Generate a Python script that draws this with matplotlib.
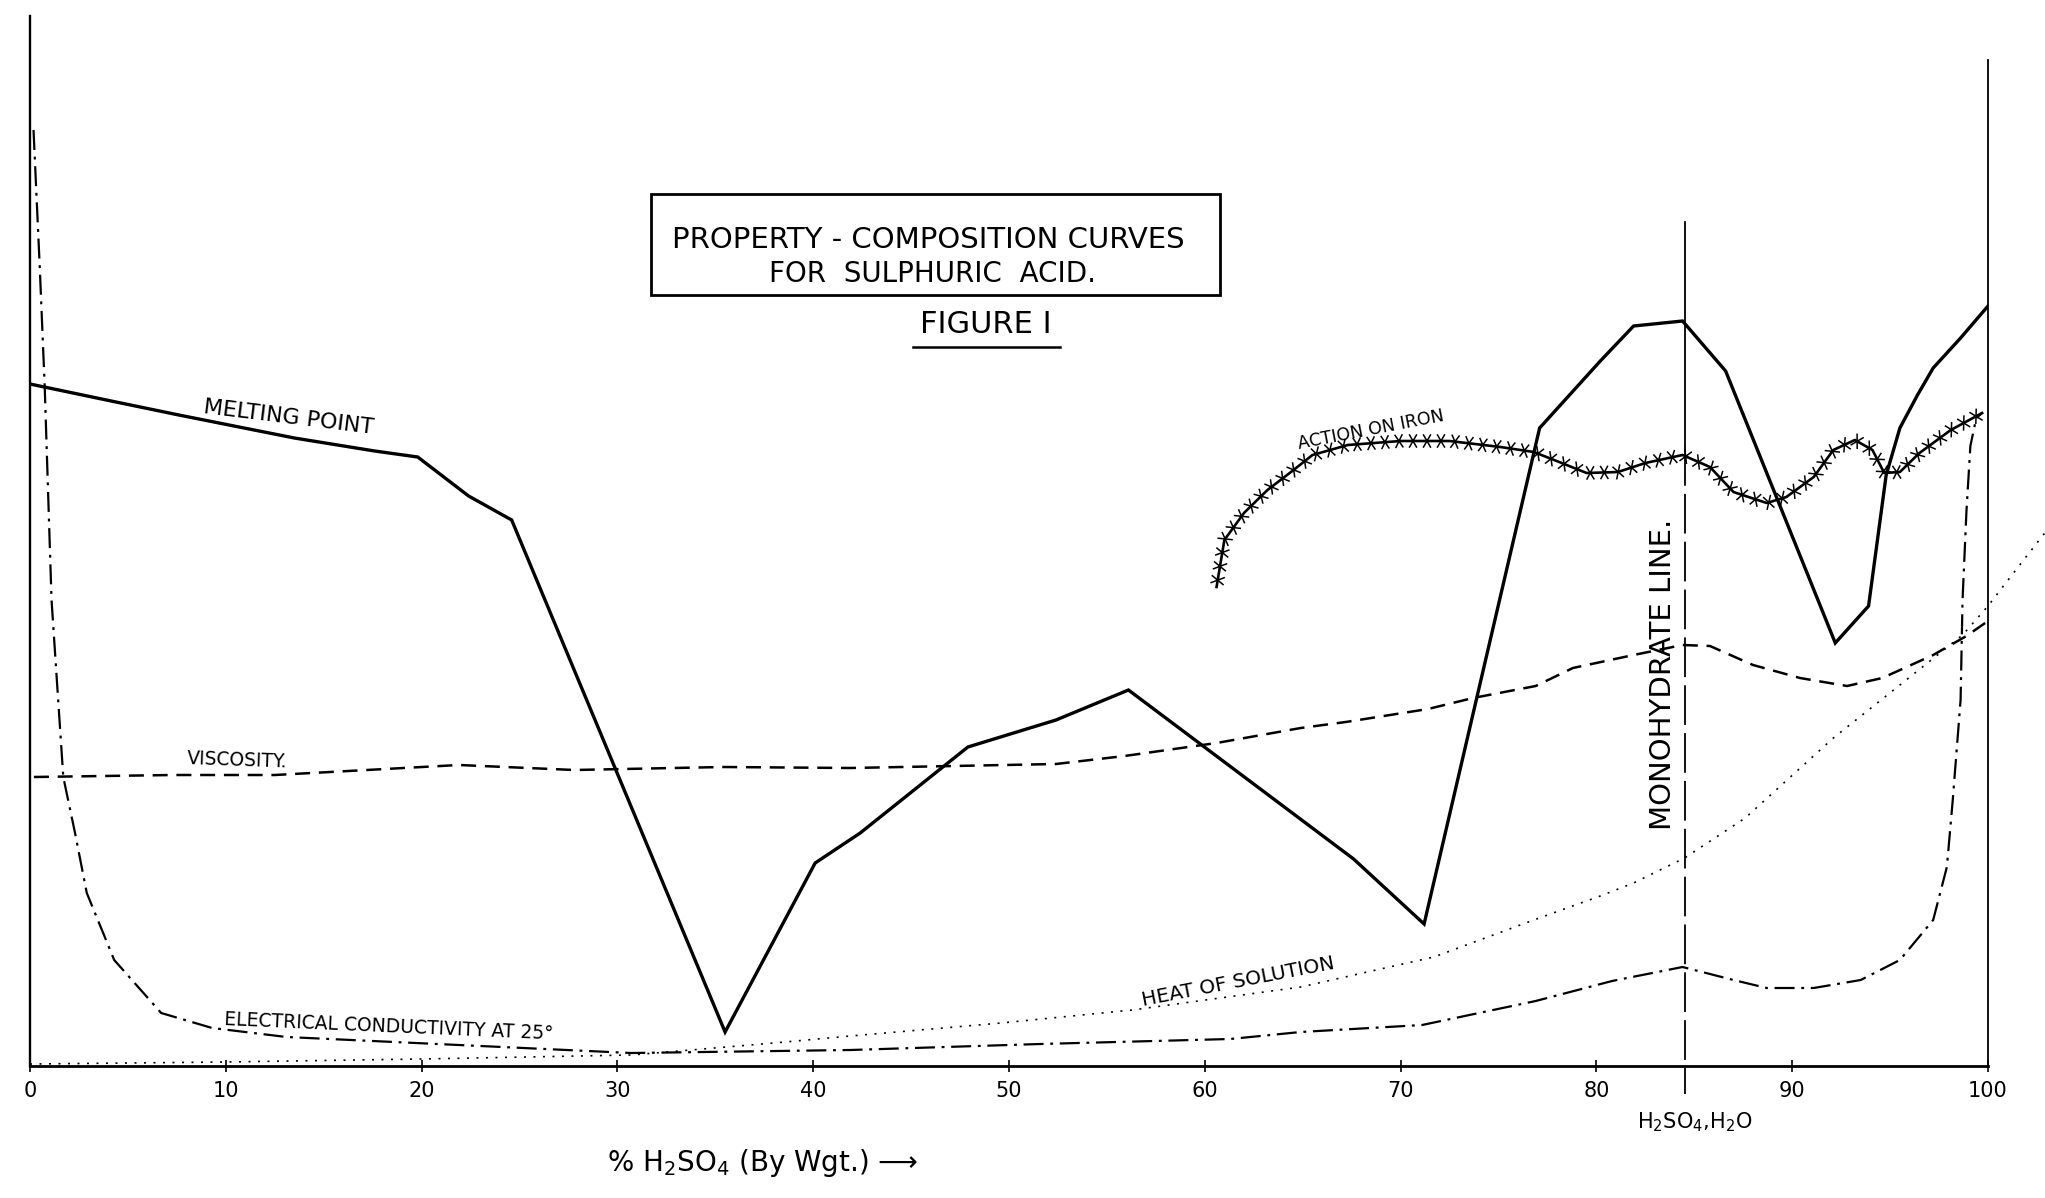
import matplotlib.pyplot as plt
import matplotlib.patheffects as pe
from matplotlib.patches import Rectangle

# % H2SO4 by weight on x, heights are arbitrary chart units (no y scale on the original)
melt_x = [0, 3.9, 7.6, 13.5, 17.6, 19.8, 22.4, 24.6, 35.5, 40.1, 42.4, 47.9, 52.4, 56.1,
          67.6, 71.2, 77.1, 80.2, 81.9, 84.4, 86.6, 92.2, 93.9, 94.8, 95.5, 96.4, 97.2, 98.6, 100]
melt_y = [68.2, 66.6, 65.1, 62.8, 61.5, 60.9, 57.0, 54.6, 3.4, 20.3, 23.3, 31.9, 34.6, 37.6,
          20.7, 14.2, 63.8, 70.5, 74.0, 74.5, 69.5, 42.3, 46.0, 59.1, 63.8, 67.1, 69.8, 72.8, 76.0]

action_x = [60.6, 61.0, 62.0, 63.2, 64.4, 65.5, 67.3, 70.0, 72.5, 75.1, 76.8, 78.1, 79.5, 81.1,
            82.5, 84.4, 85.8, 87.0, 88.7, 89.7, 91.1, 92.1, 93.2, 94.1, 94.7, 95.5, 96.5, 98.1, 99.7]
action_y = [47.9, 52.6, 55.3, 57.6, 59.4, 61.1, 62.1, 62.5, 62.5, 61.9, 61.4, 60.4, 59.3, 59.4,
            60.3, 61.1, 59.9, 57.4, 56.3, 56.9, 58.9, 61.6, 62.6, 61.6, 59.3, 59.4, 61.3, 63.6, 65.3]

visc_x = [0.2, 7.3, 12.5, 21.9, 27.8, 35.4, 41.9, 52.4, 55.9, 60.6, 64.9, 67.2, 71.4, 73.7,
          76.9, 78.8, 81.9, 84.4, 85.8, 88.0, 90.4, 92.8, 94.6, 97.2, 98.9, 100]
visc_y = [28.9, 29.1, 29.1, 30.1, 29.6, 29.9, 29.8, 30.2, 31.0, 32.3, 33.8, 34.4, 35.7, 36.8,
          38.0, 39.8, 41.1, 42.1, 42.0, 40.1, 38.8, 38.0, 38.8, 41.1, 43.0, 44.5]

heat_x = [0, 10, 20, 30.7, 38, 41.9, 49.6, 56.3, 64.9, 71.7, 76.8, 80.2, 81.9, 84.5, 87.6,
          92.1, 95.5, 98.7, 100, 101.5, 102.9]
heat_y = [0.2, 0.4, 0.7, 1.1, 2.3, 3.0, 4.3, 5.6, 7.9, 10.9, 14.6, 17.0, 18.3, 20.8, 24.8,
          32.8, 38.1, 43.1, 46.0, 49.8, 53.3]

cond_x = [0.18, 0.5, 0.75, 1.1, 1.7, 2.3, 2.9, 4.3, 6.7, 9.3, 13.1, 21.9, 30.7, 41.9, 51.6,
          61.3, 64.9, 71.1, 76.9, 80.8, 84.4, 87.0, 88.7, 91.1, 93.5, 95.5, 97.2, 97.9, 98.2,
          98.6, 98.7, 98.9, 99.1, 99.4, 99.7]
cond_y = [93.6, 79.8, 68.0, 46.6, 28.9, 23.3, 17.3, 10.6, 5.3, 3.8, 2.9, 2.1, 1.3, 1.6, 2.2,
          2.7, 3.4, 4.1, 6.5, 8.5, 9.9, 8.6, 7.8, 7.8, 8.6, 10.6, 14.6, 19.9, 26.6,
          36.6, 46.6, 55.5, 62.0, 64.8, 65.3]

monohydrate = 84.5
tick_values = list(range(0, 101, 10))
tick_labels = [str(v) for v in tick_values]

fig = plt.figure(figsize=(20.45, 11.98), dpi=100)
ax = fig.add_axes([30 / 2045, 1 - 1066 / 1198, 1958 / 2045, 1066 / 1198])
ax.set_xlim(0, 100)
ax.set_ylim(0, 106.6)

# hand drawn frame: long left axis, shorter right line, no top
ax.spines["top"].set_visible(False)
ax.spines["left"].set_bounds(0, 105)
ax.spines["right"].set_bounds(0, 100.6)
ax.spines["left"].set_linewidth(1.7)
ax.spines["bottom"].set_linewidth(2.0)
ax.spines["right"].set_linewidth(1.3)
ax.set_yticks([])
ax.set_xticks(tick_values)
ax.set_xticklabels(tick_labels)
ax.tick_params(axis="x", direction="inout", length=9, width=1.2, pad=6, labelsize=15)

ax.plot(melt_x, melt_y, color="black", lw=2.4, solid_joinstyle="miter")
ax.plot(visc_x, visc_y, color="black", lw=1.8, dashes=(6, 3.5))
ax.plot(heat_x, heat_y, color="black", lw=1.2, dashes=(1.2, 4.5), clip_on=False)
ax.plot(cond_x, cond_y, color="black", lw=1.6, dashes=(9, 3, 1.3, 3))

crosses = [pe.Normal()] + [
    pe.TickedStroke(spacing=10, angle=a, length=0.5, linewidth=1.1)
    for a in (60, -120, 120, -60)
]
ax.plot(action_x, action_y, color="black", lw=1.9, path_effects=crosses)

# monohydrate line, solid near the top then long dashes down past the axis
ax.plot([monohydrate, monohydrate], [84.4, 62], color="black", lw=1.3)
ax.plot([monohydrate, monohydrate], [62, -2.8], color="black", lw=1.3,
        dashes=(22, 4.5), clip_on=False)

# title box
ax.add_patch(Rectangle((31.7, 77.1), 29.1, 10.1, fill=False, lw=2.0, color="black"))
ax.text(45.9, 82.6, "PROPERTY - COMPOSITION CURVES", fontsize=21, ha="center", va="center")
ax.text(46.1, 79.2, "FOR  SULPHURIC  ACID.", fontsize=20, ha="center", va="center")
ax.text(48.8, 74.1, "FIGURE I", fontsize=22, ha="center", va="center")
ax.plot([45.1, 52.6], [71.9, 71.9], color="black", lw=1.8)

# curve labels
ax.text(13.2, 64.9, "MELTING POINT", fontsize=16, rotation=-7, ha="center", va="center")
ax.text(10.6, 30.6, "VISCOSITY.", fontsize=13.5, rotation=-2, ha="center", va="center")
ax.text(18.3, 3.9, "ELECTRICAL CONDUCTIVITY AT 25°", fontsize=13.5, rotation=-2.5,
        ha="center", va="center")
ax.text(61.7, 8.4, "HEAT OF SOLUTION", fontsize=14.5, rotation=11, ha="center", va="center")
ax.text(68.5, 63.6, "ACTION ON IRON", fontsize=12.5, rotation=11, ha="center", va="center")
ax.text(83.4, 39.2, "MONOHYDRATE LINE.", fontsize=21, rotation=90, ha="center", va="center")

ax.text(85.0, -5.6, "H$_2$SO$_4$,H$_2$O", fontsize=15, ha="center", va="center", clip_on=False)
ax.text(37.4, -9.7, "% H$_2$SO$_4$ (By Wgt.) ⟶", fontsize=20, ha="center", va="center",
        clip_on=False)

fig.savefig("out.png", dpi=100)
